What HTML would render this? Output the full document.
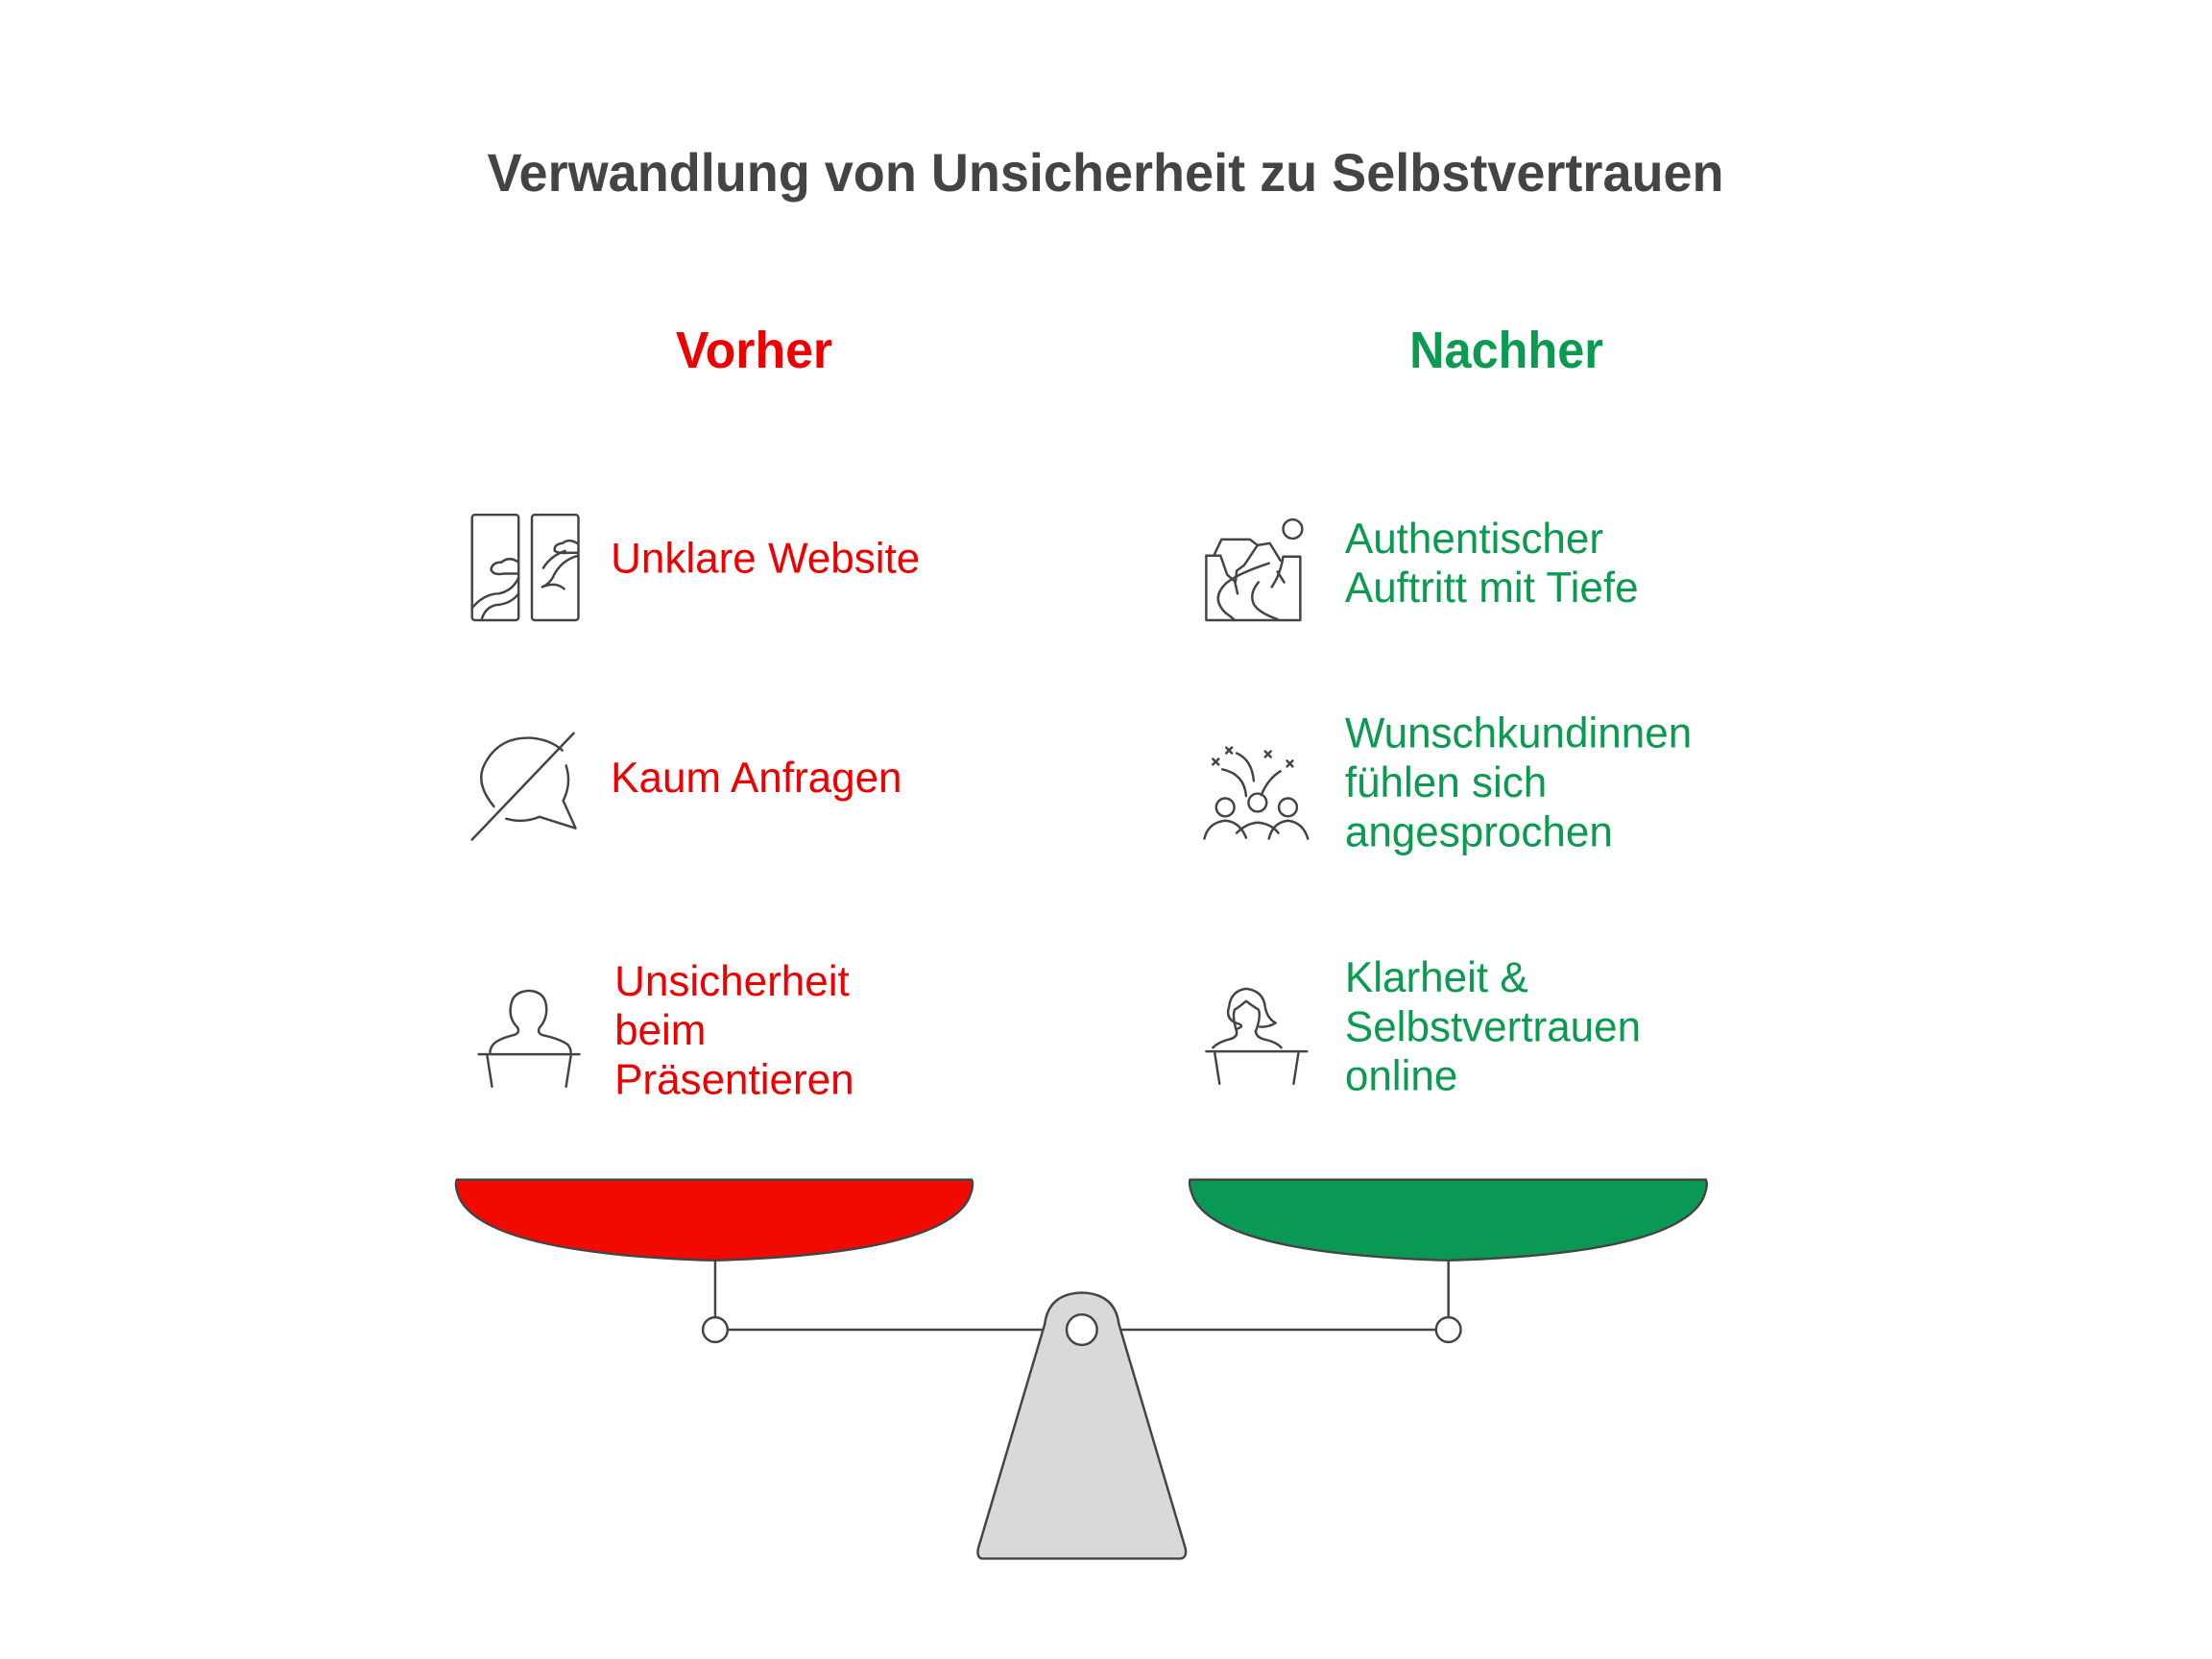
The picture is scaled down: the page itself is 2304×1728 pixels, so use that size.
<!DOCTYPE html>
<html><head><meta charset="utf-8"><style>
html,body{margin:0;padding:0;background:#fff;}
svg{display:block;}
text{font-family:"Liberation Sans",sans-serif;}
</style></head><body>
<svg width="2304" height="1728" viewBox="0 0 2304 1728" xmlns="http://www.w3.org/2000/svg">
<rect width="2304" height="1728" fill="#fff"/>
<g transform="scale(0.9893)">
<text x="1164" y="201" text-anchor="middle" font-size="56" font-weight="bold" fill="#444" textLength="1302" lengthAdjust="spacingAndGlyphs">Verwandlung von Unsicherheit zu Selbstvertrauen</text>
<text x="794" y="387" text-anchor="middle" font-size="54" font-weight="bold" fill="#ee0000" textLength="165" lengthAdjust="spacingAndGlyphs">Vorher</text>
<text x="1586" y="387" text-anchor="middle" font-size="54" font-weight="bold" fill="#0a9a50" textLength="204" lengthAdjust="spacingAndGlyphs">Nachher</text>

<g font-size="44.5" fill="#ee0000">
<text x="643" y="603">Unklare Website</text>
<text x="643" y="834">Kaum Anfragen</text>
<text x="647" y="1048">Unsicherheit</text>
<text x="647" y="1100">beim</text>
<text x="647" y="1152">Präsentieren</text>
</g>
<g font-size="44.5" fill="#0a9a50">
<text x="1416" y="582">Authentischer</text>
<text x="1416" y="634">Auftritt mit Tiefe</text>
<text x="1416" y="787">Wunschkundinnen</text>
<text x="1416" y="839">fühlen sich</text>
<text x="1416" y="891">angesprochen</text>
<text x="1416" y="1044">Klarheit &amp;</text>
<text x="1416" y="1096">Selbstvertrauen</text>
<text x="1416" y="1148">online</text>
</g>

<g fill="none" stroke="#444" stroke-width="2.5" stroke-linecap="round" stroke-linejoin="round">
<rect x="497" y="542" width="49" height="111" rx="3"/>
<rect x="560" y="542" width="49" height="111" rx="3"/>
<path d="M497 640 Q510 625 525 625 Q540 622 546 608"/>
<path d="M507 653 Q510 640 522 637 Q538 636 546 625"/>
<path d="M546 592 Q536 585 528 592 Q518 592 517 600 Q520 606 530 604 L546 604"/>
<path d="M609 573 Q600 566 592 572 Q583 573 584 580 Q588 583 600 582 L609 582"/>
<path d="M609 585 Q590 590 582 608 Q578 615 571 618"/>
<path d="M572 598 Q580 585 595 580"/>
<path d="M571 618 Q585 612 594 620"/>
<path d="M520 849 Q500 825 510 805 Q525 775 560 777 Q580 779 592 790"/>
<path d="M596 806 Q602 825 593 843 L606 872 L568 860 Q552 867 533 862"/>
<line x1="497" y1="884" x2="604" y2="772"/>
<path d="M545 1082 Q535 1072 538 1058 Q540 1044 557 1043 Q573 1044 575 1058 Q577 1072 568 1082 Q565 1088 572 1090 Q590 1094 598 1100 Q601 1104 601 1108"/>
<path d="M545 1082 Q548 1088 540 1090 Q524 1094 519 1100 Q516 1104 516 1108"/>
<line x1="504" y1="1110" x2="610" y2="1110"/>
<line x1="513" y1="1112" x2="518" y2="1144"/>
<line x1="601" y1="1112" x2="596" y2="1144"/>
<path d="M1270 585 L1270 653 L1369 653 L1369 586 L1351 586"/>
<path d="M1270 585 L1285 585 L1292 605 L1300 612 L1303 625"/>
<path d="M1278 585 L1286 568 L1316 568 L1324 574 L1337 572 L1348 590"/>
<path d="M1324 574 L1310 595 L1302 601 L1301 612"/>
<path d="M1336 593 Q1300 605 1290 615 Q1275 630 1290 645 Q1297 650 1300 653"/>
<path d="M1325 613 Q1315 625 1320 636 Q1325 645 1345 652"/>
<path d="M1351 586 Q1348 605 1339 618 M1345 602 L1352 613"/>
<circle cx="1361" cy="557" r="10"/>
<circle cx="1290" cy="850" r="9.5"/>
<circle cx="1324" cy="845" r="9.5"/>
<circle cx="1356" cy="850" r="9.5"/>
<path d="M1268 883 Q1272 866 1290 864 Q1305 865 1312 882"/>
<path d="M1302 877 Q1312 867 1324 866 Q1338 867 1346 877"/>
<path d="M1336 883 Q1340 866 1356 864 Q1372 866 1377 883"/>
<path d="M1277 799 L1283 805 M1283 799 L1277 805"/>
<path d="M1291 787 L1297 793 M1297 787 L1291 793"/>
<path d="M1332 791 L1338 797 M1338 791 L1332 797"/>
<path d="M1355 801 L1361 807 M1361 801 L1355 807"/>
<path d="M1287 810 Q1310 815 1312 838"/>
<path d="M1302 793 Q1318 800 1320 822"/>
<path d="M1328 837 Q1335 820 1348 812"/>
<path d="M1301 1077 Q1290 1072 1294 1060 Q1296 1043 1312 1041 Q1330 1043 1332 1060 Q1334 1072 1343 1077 Q1335 1082 1326 1081"/>
<path d="M1301 1077 Q1312 1080 1303 1083"/>
<path d="M1302 1086 Q1297 1070 1300 1063 Q1305 1060 1312 1054 Q1320 1060 1325 1063 Q1328 1070 1322 1086"/>
<path d="M1302 1086 Q1303 1092 1295 1094 Q1283 1097 1277 1103"/>
<path d="M1322 1086 Q1323 1092 1330 1094 Q1344 1097 1349 1103"/>
<line x1="1270" y1="1107" x2="1376" y2="1107"/>
<line x1="1279" y1="1109" x2="1284" y2="1141"/>
<line x1="1367" y1="1109" x2="1362" y2="1141"/>
</g>

<g stroke="#444" stroke-width="2.5">
<line x1="753" y1="1327" x2="753" y2="1400"/>
<line x1="1525" y1="1327" x2="1525" y2="1400"/>
<line x1="753" y1="1400" x2="1525" y2="1400"/>
<path d="M481 1242 L1023 1242 Q1026 1248 1020 1262 Q990 1320 752 1327 Q514 1320 484 1262 Q478 1248 481 1242 Z" fill="#f20a00"/>
<path d="M1253 1242 L1796 1242 Q1799 1248 1793 1262 Q1763 1320 1525 1327 Q1287 1320 1257 1262 Q1251 1248 1253 1242 Z" fill="#0a9954"/>
<path d="M1100 1394 Q1104 1362 1139 1361 Q1174 1362 1178 1394 L1248 1630 Q1250 1640 1243 1641 L1034 1641 Q1028 1640 1030 1630 Z" fill="#d9d9d9"/>
<circle cx="753" cy="1400" r="13" fill="#fff"/>
<circle cx="1525" cy="1400" r="13" fill="#fff"/>
<circle cx="1139" cy="1400" r="16" fill="#fff"/>
</g>
</g>
</svg>
</body></html>
